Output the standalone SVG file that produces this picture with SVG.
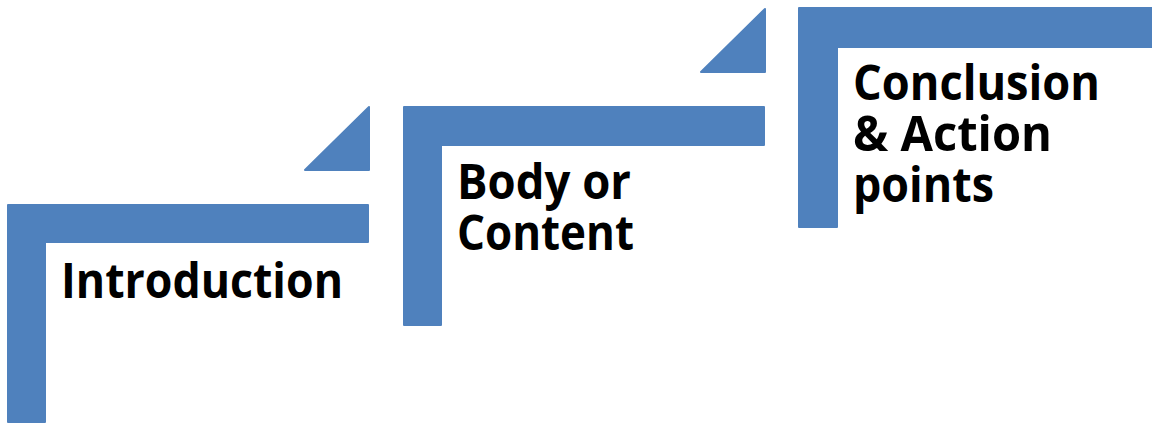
<svg xmlns="http://www.w3.org/2000/svg" width="1152" height="424" viewBox="0 0 1152 424">
<style>
.s{fill:#4F81BD;stroke:#4F81BD;stroke-width:2;stroke-linejoin:round}
.t{font-family:"Open Sans","Noto Sans","Liberation Sans",sans-serif;font-weight:bold;font-size:49px;fill:#000}
</style>
<rect width="1152" height="424" fill="#fff"/>
<g id="step1">
<path class="s" d="M8,205 H368 V242 H45 V422 H8 Z"/>
<text class="t" x="61" y="298" textLength="282" lengthAdjust="spacingAndGlyphs">Introduction</text>
</g>
<g id="arrow1">
<path class="s" d="M369,107 V170 H305 Z"/>
</g>
<g id="step2">
<path class="s" d="M404,107 H764 V145 H441 V325 H404 Z"/>
<text class="t" x="457" y="199" textLength="174" lengthAdjust="spacingAndGlyphs">Body or</text>
<text class="t" x="457" y="250" textLength="177" lengthAdjust="spacingAndGlyphs">Content</text>
</g>
<g id="arrow2">
<path class="s" d="M765,9 V72 H701 Z"/>
</g>
<g id="step3">
<path class="s" d="M799,8 H1160 V47 H837 V227 H799 Z"/>
<text class="t" x="853" y="100" textLength="247" lengthAdjust="spacingAndGlyphs">Conclusion</text>
<text class="t" x="853" y="151" textLength="199" lengthAdjust="spacingAndGlyphs">&amp; Action</text>
<text class="t" x="853" y="202" textLength="141" lengthAdjust="spacingAndGlyphs">points</text>
</g>
<g id="connectors"></g>
</svg>
